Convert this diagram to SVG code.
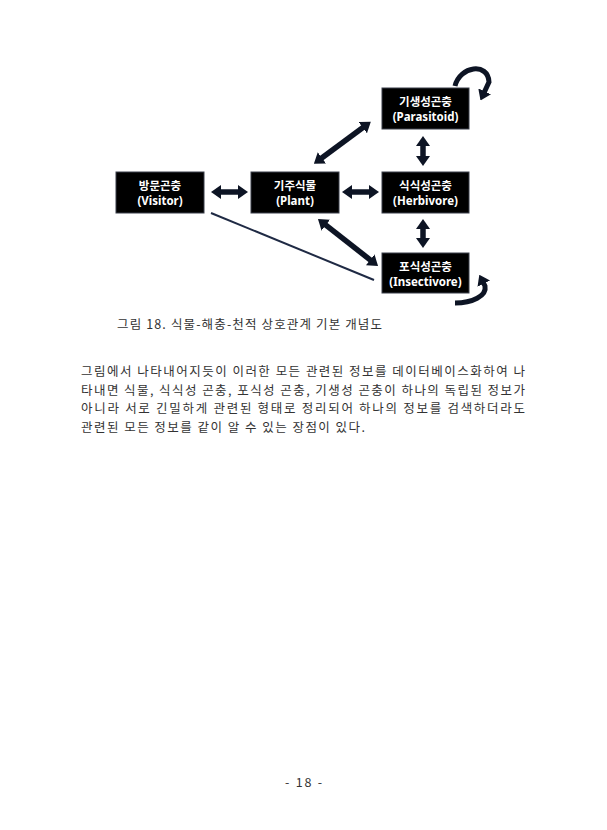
<svg xmlns="http://www.w3.org/2000/svg" width="607" height="830" viewBox="0 0 607 830">
<style>
.box{fill:#000;stroke:#3a3f4a;stroke-width:1}
.lbl{font-family:"Noto Sans","Noto Sans CJK KR",sans-serif;font-weight:bold;font-size:11.5px;fill:#fff;text-anchor:middle}
.arr{stroke:#0d1424;stroke-width:5.5;fill:none;marker-start:url(#ah);marker-end:url(#ah)}
.loop{stroke:#0d1424;stroke-width:5;fill:none;marker-end:url(#ah)}
.body{font-family:"Noto Sans CJK KR",sans-serif;font-size:12.5px;fill:#333}
</style>
<defs>
<marker id="ah" viewBox="0 0 10 14" refX="4" refY="7" markerWidth="10" markerHeight="14" markerUnits="userSpaceOnUse" orient="auto-start-reverse">
<path d="M0,0 L10,7 L0,14 z" fill="#0d1424"/>
</marker>
</defs>
<rect width="607" height="830" fill="#fff"/>
<g id="connectors">
<line class="arr" x1="217" y1="192" x2="242" y2="192"/>
<line class="arr" x1="348" y1="192" x2="373" y2="192"/>
<line class="arr" x1="423" y1="142" x2="423" y2="160"/>
<line class="arr" x1="423" y1="225" x2="423" y2="242"/>
<line class="arr" x1="318.7" y1="160.3" x2="366" y2="125.3"/>
<line class="arr" x1="322.7" y1="222.7" x2="373.3" y2="262.3"/>
<line x1="211" y1="213" x2="374" y2="280" stroke="#1f2a44" stroke-width="2"/>
<path class="loop" d="M455,86 C460,66 488,62 489,82 L483,95"/>
<path class="loop" d="M455,303 C472,303 487,296 485,286 L482,280"/>
</g>
<g id="visitor">
<rect class="box" x="116" y="172" width="88" height="41"/>
<text class="lbl" x="160" y="189.5">방문곤충</text>
<text class="lbl" x="160" y="204.5">(Visitor)</text>
</g>
<g id="plant">
<rect class="box" x="251" y="172" width="88" height="41"/>
<text class="lbl" x="295" y="189.5">기주식물</text>
<text class="lbl" x="295" y="204.5">(Plant)</text>
</g>
<g id="parasitoid">
<rect class="box" x="382" y="88" width="87" height="41"/>
<text class="lbl" x="425.5" y="105.5">기생성곤충</text>
<text class="lbl" x="425.5" y="120.5">(Parasitoid)</text>
</g>
<g id="herbivore">
<rect class="box" x="382" y="172" width="87" height="41"/>
<text class="lbl" x="425.5" y="189.5">식식성곤충</text>
<text class="lbl" x="425.5" y="204.5">(Herbivore)</text>
</g>
<g id="insectivore">
<rect class="box" x="382" y="253" width="87" height="40"/>
<text class="lbl" x="425.5" y="270.5">포식성곤충</text>
<text class="lbl" x="425.5" y="285.5">(Insectivore)</text>
</g>
<text class="body" x="117" y="329" font-size="13" textLength="265" lengthAdjust="spacing">그림 18. 식물-해충-천적 상호관계 기본 개념도</text>
<text class="body" x="81" y="376" textLength="444" lengthAdjust="spacing">그림에서 나타내어지듯이 이러한 모든 관련된 정보를 데이터베이스화하여 나</text>
<text class="body" x="81" y="394.5" textLength="444" lengthAdjust="spacing">타내면 식물, 식식성 곤충, 포식성 곤충, 기생성 곤충이 하나의 독립된 정보가</text>
<text class="body" x="81" y="413" textLength="444" lengthAdjust="spacing">아니라 서로 긴밀하게 관련된 형태로 정리되어 하나의 정보를 검색하더라도</text>
<text class="body" x="81" y="431.5" textLength="284" lengthAdjust="spacing">관련된 모든 정보를 같이 알 수 있는 장점이 있다.</text>
<text class="body" x="285" y="787" font-size="12" textLength="37" lengthAdjust="spacing">- 18 -</text>
</svg>
